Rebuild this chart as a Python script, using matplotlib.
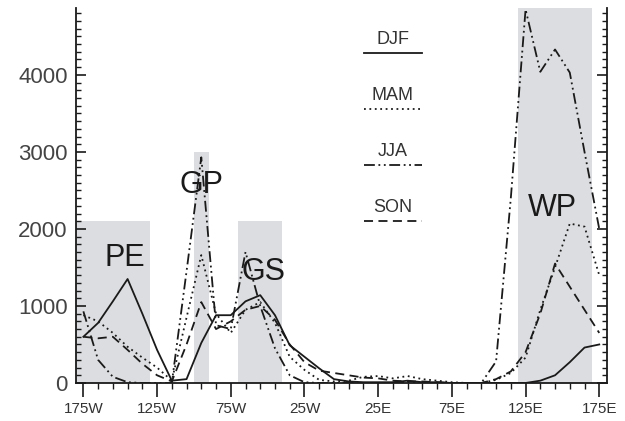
import matplotlib
matplotlib.use("Agg")
import matplotlib.pyplot as plt
from matplotlib.ticker import MultipleLocator, FixedLocator

# longitude grid, 175W .. 175E every 10 degrees
lons = list(range(-175, 176, 10))

djf = [600, 780, 1060, 1350, 900, 430, 30, 50, 520, 880, 880, 1060,
       1140, 880, 490, 340, 190, 50, 20, 10, 10, 10, 30, 10,
       10, 0, 0, 0, 0, 0, 0, 30, 100, 270, 460, 500]
mam = [880, 800, 650, 470, 330, 200, 30, 850, 1660, 900, 650, 950,
       1050, 780, 340, 170, 40, 20, 30, 80, 90, 60, 90, 50,
       30, 10, 0, 0, 40, 130, 330, 950, 1500, 2070, 2030, 1400]
jja = [930, 300, 80, 10, 0, 0, 0, 1450, 2930, 750, 700, 1700,
       1000, 450, 100, 10, 0, 0, 0, 0, 0, 0, 0, 0,
       0, 0, 0, 0, 280, 2400, 4850, 4040, 4330, 4030, 3000, 2000]
son = [600, 580, 600, 430, 250, 100, 20, 500, 1050, 700, 800, 950,
       1000, 820, 500, 270, 160, 130, 100, 70, 60, 30, 20, 20,
       10, 0, 0, 0, 50, 150, 400, 900, 1550, 1250, 950, 650]

seasons = ["DJF", "MAM", "JJA", "SON"]
styles = ["-", (0, (1, 2)), (0, (6, 2, 1, 2, 1, 2)), (0, (5, 3))]

# shaded regions
region_names = ["PE", "GP", "GS", "WP"]
region_west = [-180, -100, -70, 120]
region_east = [-130, -90, -40, 170]
region_top = [2100, 3000, 2100, 5000]
label_lon = [-147, -95, -53, 143]
label_val = [1620, 2570, 1440, 2270]

xticks = [-175, -125, -75, -25, 25, 75, 125, 175]
xticklabels = ["175W", "125W", "75W", "25W", "25E", "75E", "125E", "175E"]

ink = "#1a1a1a"

fig = plt.figure(figsize=(6.25, 4.21), dpi=100)
ax = fig.add_axes([0.1216, 0.0903, 0.849, 0.891])

for w, e, top in zip(region_west, region_east, region_top):
    ax.bar(w, top, width=e - w, align="edge", color="#dcdde0", zorder=0)

for name, x, y in zip(region_names, label_lon, label_val):
    ax.text(x, y, name, fontsize=22, family="Liberation Sans", color=ink,
            ha="center", va="center", zorder=3)

for vals, ls in zip([djf, mam, jja, son], styles):
    ax.plot(lons, vals, color=ink, lw=1.3, linestyle=ls, zorder=2)

# legend: label text above a line sample
for i, (name, ls) in enumerate(zip(seasons, styles)):
    ty = 0.915 - i * 0.149
    ax.text(0.597, ty, name, transform=ax.transAxes, fontsize=13,
            family="Liberation Sans", color="#333", ha="center", va="center")
    ax.plot([0.542, 0.653], [ty - 0.036, ty - 0.036], transform=ax.transAxes,
            color=ink, lw=1.3, linestyle=ls)

ax.set_xlim(-180, 180)
ax.set_ylim(0, 4870)

ax.spines["top"].set_visible(False)
for s in ["left", "right", "bottom"]:
    ax.spines[s].set_linewidth(1.3)
    ax.spines[s].set_color(ink)

ax.xaxis.set_major_locator(FixedLocator(xticks))
ax.xaxis.set_minor_locator(MultipleLocator(10, offset=5))
ax.set_xticklabels(xticklabels)
ax.yaxis.set_major_locator(MultipleLocator(1000))
ax.yaxis.set_minor_locator(MultipleLocator(100))

ax.tick_params(axis="x", which="major", direction="out", length=10, width=1.2,
               color=ink, labelsize=11, pad=4, labelcolor="#333")
ax.tick_params(axis="x", which="minor", direction="out", length=4.5, width=1.0,
               color=ink)
ax.tick_params(axis="y", which="major", direction="in", length=7, width=1.2,
               color=ink, labelsize=16, pad=6, labelcolor="#444",
               right=True)
ax.tick_params(axis="y", which="minor", direction="in", length=3.5, width=1.0,
               color=ink, right=True)
for lab in ax.get_xticklabels() + ax.get_yticklabels():
    lab.set_family("Liberation Sans")

fig.savefig("out.png", dpi=100)
